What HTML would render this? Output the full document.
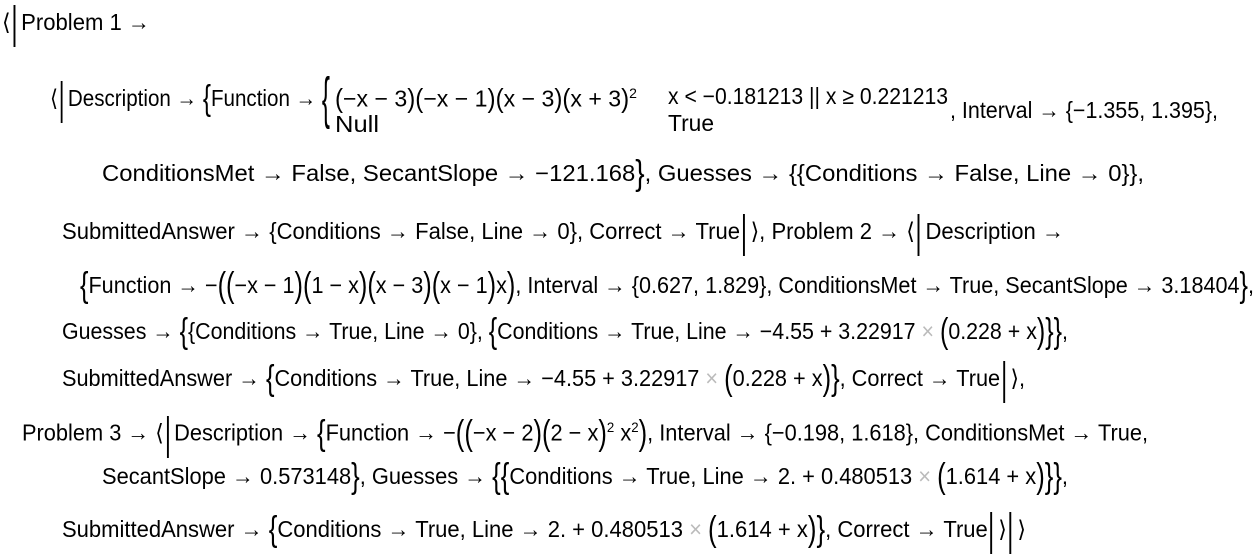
<!DOCTYPE html>
<html><head><meta charset="utf-8">
<style>
html,body{margin:0;padding:0;background:#fff;}
body{width:1256px;height:556px;position:relative;overflow:hidden;font-family:"Liberation Sans",sans-serif;color:#000;}
.l{position:absolute;white-space:pre;font-size:23px;line-height:40px;height:40px;transform-origin:0 50%;}
.b{display:inline-block;font-size:27px;transform:scaleY(1.3);line-height:20px;vertical-align:-1px;}
.s{display:inline-block;font-size:24px;transform:scaleY(1.1);line-height:20px;vertical-align:0px;}
.bar{display:inline-block;width:0;height:42px;border-left:2px solid #000;vertical-align:middle;margin:-2px 6px 0 3px;position:relative;top:3px;}
.g{color:#bbb;}
sup{font-size:14px;}
</style></head><body>
<div class="l" data-x="2" data-w="148" style="top:2px">⟨<span class="bar"></span>Problem 1 →</div>

<div class="l" data-x="50" data-w="280" style="top:78px">⟨<span class="bar"></span>Description → <span class="b">{</span>Function → <span class="b" style="transform:scaleY(2.1)">{</span></div>
<div class="l" data-x="335" data-w="302" style="top:73px"><span class="s">(</span>−x − 3<span class="s">)</span><span class="s">(</span>−x − 1<span class="s">)</span><span class="s">(</span>x − 3<span class="s">)</span><span class="s">(</span>x + 3<span class="s">)</span><sup>2</sup></div>
<div class="l" data-x="668" data-w="280" style="top:76px">x &lt; −0.181213 || x ≥ 0.221213</div>
<div class="l" data-x="335" data-w="44" style="top:104px">Null</div>
<div class="l" data-x="668" data-w="46" style="top:103px">True</div>
<div class="l" data-x="950" data-w="268" style="top:90px">, Interval → {−1.355, 1.395},</div>

<div class="l" data-x="102" data-w="1042" style="top:153px">ConditionsMet → False, SecantSlope → −121.168<span class="b">}</span>, Guesses → {{Conditions → False, Line → 0}},</div>

<div class="l" data-x="62" data-w="1002" style="top:211px">SubmittedAnswer → {Conditions → False, Line → 0}, Correct → True<span class="bar"></span>⟩, Problem 2 → ⟨<span class="bar"></span>Description →</div>

<div class="l" data-x="80" data-w="1174" style="top:265px"><span class="b">{</span>Function → −<span class="b">(</span><span class="b">(</span>−x − 1<span class="b">)</span><span class="b">(</span>1 − x<span class="b">)</span><span class="b">(</span>x − 3<span class="b">)</span><span class="b">(</span>x − 1<span class="b">)</span>x<span class="b">)</span>, Interval → {0.627, 1.829}, ConditionsMet → True, SecantSlope → 3.18404<span class="b">}</span>,</div>

<div class="l" data-x="62" data-w="1006" style="top:311px">Guesses → <span class="b">{</span>{Conditions → True, Line → 0}, <span class="b">{</span>Conditions → True, Line → −4.55 + 3.22917 <span class="g">×</span> <span class="b">(</span>0.228 + x<span class="b">)</span><span class="b">}</span><span class="b">}</span>,</div>

<div class="l" data-x="62" data-w="963" style="top:358px">SubmittedAnswer → <span class="b">{</span>Conditions → True, Line → −4.55 + 3.22917 <span class="g">×</span> <span class="b">(</span>0.228 + x<span class="b">)</span><span class="b">}</span>, Correct → True<span class="bar"></span>⟩,</div>

<div class="l" data-x="22" data-w="1126" style="top:407px">Problem 3 → ⟨<span class="bar"></span>Description → <span class="b">{</span>Function → −<span class="b">(</span><span class="b">(</span>−x − 2<span class="b">)</span><span class="b">(</span>2 − x<span class="b">)</span><sup>2</sup> x<sup>2</sup><span class="b">)</span>, Interval → {−0.198, 1.618}, ConditionsMet → True,</div>

<div class="l" data-x="102" data-w="966" style="top:456px">SecantSlope → 0.573148<span class="b">}</span>, Guesses → <span class="b">{</span><span class="b">{</span>Conditions → True, Line → 2. + 0.480513 <span class="g">×</span> <span class="b">(</span>1.614 + x<span class="b">)</span><span class="b">}</span><span class="b">}</span>,</div>

<div class="l" data-x="62" data-w="964" style="top:509px">SubmittedAnswer → <span class="b">{</span>Conditions → True, Line → 2. + 0.480513 <span class="g">×</span> <span class="b">(</span>1.614 + x<span class="b">)</span><span class="b">}</span>, Correct → True<span class="bar"></span>⟩<span class="bar"></span>⟩</div>

<script>
document.querySelectorAll('.l').forEach(function(e){
  var x=+e.dataset.x,w=+e.dataset.w;
  e.style.left=x+'px';
  var r=e.getBoundingClientRect().width;
  if(r>0) e.style.transform='scaleX('+(w/r)+')';
});
</script>
</body></html>
